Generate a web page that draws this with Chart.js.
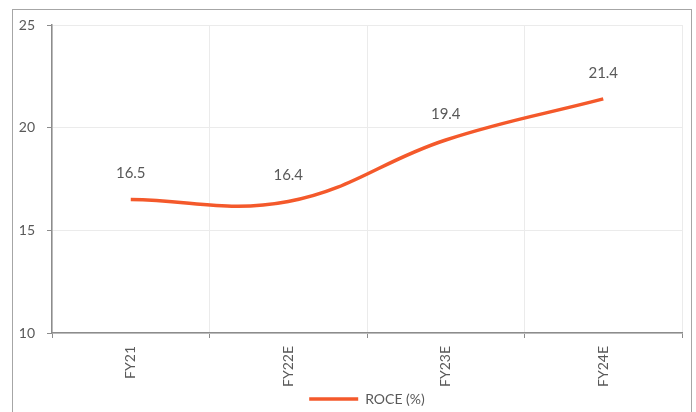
<!DOCTYPE html>
<html>
<head>
<meta charset="utf-8">
<title>ROCE (%)</title>
<script src="https://cdn.jsdelivr.net/npm/chart.js@4.4.1/dist/chart.umd.min.js"></script>
<style>
  html, body { margin: 0; padding: 0; background: #fff; }
</style>
</head>
<body>
<canvas id="roceChart" width="696" height="412"></canvas>
<script>
// ROCE line chart
const categories = ["FY21", "FY22E", "FY23E", "FY24E"];
const roceValues = [16.5, 16.4, 19.4, 21.4];
const yTickValues = [10, 15, 20, 25];
const seriesLabel = "ROCE (%)";

const lineColor = "#f4592b";
const textColor = "#595959";
const axisColor = "#8c8c8c";
const gridColor = "#ebebeb";
const fontFamily = "Lato, 'Open Sans', sans-serif";

// grey frame round the whole chart (open at the bottom, as in the source)
const framePlugin = {
  id: "frame",
  beforeDraw(chart) {
    const { ctx } = chart;
    ctx.save();
    ctx.strokeStyle = "#a6a6a6";
    ctx.lineWidth = 1;
    ctx.strokeRect(12.5, 9.5, 679, 420);
    ctx.restore();
  },
};

// value labels above each point
const valueLabels = {
  id: "valueLabels",
  afterDatasetsDraw(chart) {
    const { ctx } = chart;
    const meta = chart.getDatasetMeta(0);
    ctx.save();
    ctx.font = `15px ${fontFamily}`;
    ctx.fillStyle = textColor;
    ctx.textAlign = "center";
    ctx.textBaseline = "middle";
    meta.data.forEach((point, i) => {
      ctx.fillText(roceValues[i].toFixed(1), point.x, point.y - 26);
    });
    ctx.restore();
  },
};

new Chart(document.getElementById("roceChart"), {
  type: "line",
  data: {
    labels: categories,
    datasets: [
      {
        label: seriesLabel,
        data: roceValues,
        borderColor: lineColor,
        backgroundColor: lineColor,
        borderWidth: 3.5,
        tension: 0.4,
        pointRadius: 0,
        pointHoverRadius: 0,
        fill: false,
      },
    ],
  },
  options: {
    responsive: false,
    animation: false,
    devicePixelRatio: 1,
    layout: {
      padding: { left: 12, top: 25, right: 14, bottom: -4 },
    },
    plugins: {
      tooltip: { enabled: false },
      legend: {
        position: "bottom",
        fullSize: false,
        labels: {
          color: textColor,
          font: { family: fontFamily, size: 14 },
          usePointStyle: true,
          pointStyle: "line",
          pointStyleWidth: 49,
          padding: 0,
        },
      },
    },
    scales: {
      x: {
        offset: true,
        grid: {
          offset: true,
          color: gridColor,
          tickColor: axisColor,
          tickLength: 5,
        },
        border: { color: axisColor, width: 1.5 },
        ticks: {
          color: textColor,
          font: { family: fontFamily, size: 14 },
          minRotation: 90,
          maxRotation: 90,
          padding: 8,
          autoSkip: false,
        },
        afterFit(axis) {
          axis.height = 59;
        },
      },
      y: {
        min: 10,
        max: 25,
        afterBuildTicks(axis) {
          axis.ticks = yTickValues.map((value) => ({ value }));
        },
        grid: {
          color: gridColor,
          tickColor: axisColor,
          tickLength: 5,
        },
        border: { color: axisColor, width: 1.5 },
        ticks: {
          color: textColor,
          font: { family: fontFamily, size: 14 },
          padding: 12,
        },
        afterFit(axis) {
          axis.width = 40;
        },
      },
    },
  },
  plugins: [framePlugin, valueLabels],
});
</script>
</body>
</html>
